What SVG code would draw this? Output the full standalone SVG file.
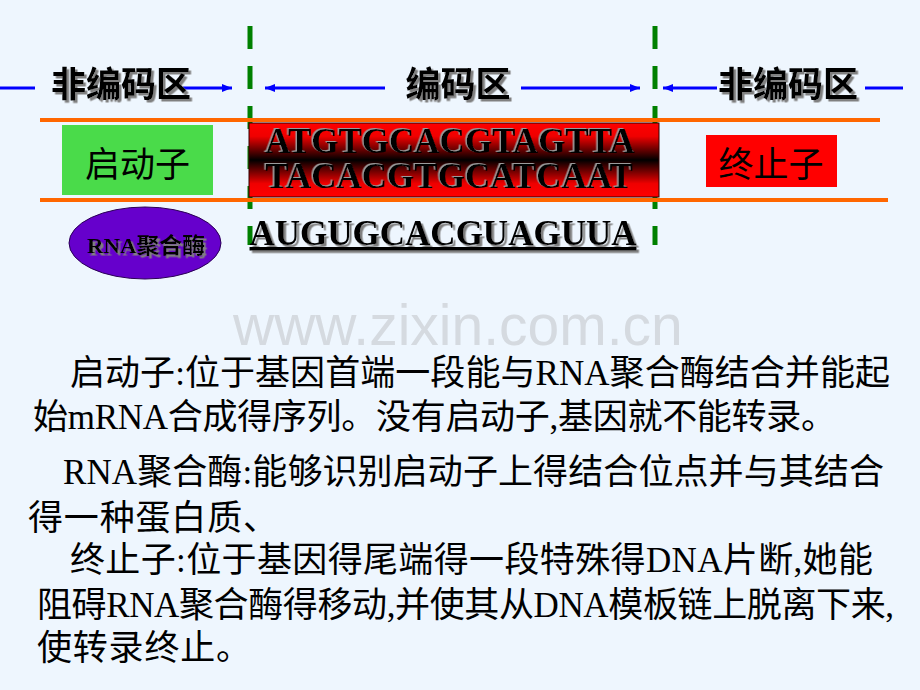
<svg xmlns="http://www.w3.org/2000/svg" width="920" height="690" viewBox="0 0 920 690">
<defs>
<style>
.lbl{font-family:"Noto Sans CJK SC","Liberation Sans",sans-serif;font-weight:bold;font-size:35px;fill:#000;text-anchor:middle}
.box{font-family:"Liberation Serif","Noto Sans CJK SC",serif;font-size:35px;fill:#000;text-anchor:middle}
.dna{font-family:"Liberation Serif","Times New Roman",serif;font-weight:bold;font-size:35px;fill:#000;text-anchor:middle}
.body{font-family:"Liberation Serif","Noto Sans CJK SC",serif;font-size:35px;fill:#000}
.arrow{stroke:#0000FF;stroke-width:3;fill:none}
.orange{stroke:#FF6600;stroke-width:4}
.dash{stroke:#008000;stroke-width:5;stroke-dasharray:23 17}
</style>
<filter id="sh" x="-10%" y="-20%" width="120%" height="150%">
<feDropShadow dx="2.5" dy="2.5" stdDeviation="0.6" flood-color="#808080" flood-opacity="1"/>
</filter>
<filter id="sh2" x="-10%" y="-20%" width="120%" height="150%">
<feDropShadow dx="-1.5" dy="-1" stdDeviation="0.4" flood-color="#9a9a9a" flood-opacity="1"/>
</filter>
<linearGradient id="redgrad" x1="0" y1="0" x2="0" y2="1">
<stop offset="0" stop-color="#FF0000"/>
<stop offset="0.18" stop-color="#F00000"/>
<stop offset="0.5" stop-color="#000000"/>
<stop offset="0.82" stop-color="#F00000"/>
<stop offset="1" stop-color="#FF0000"/>
</linearGradient>
<marker id="ah" markerWidth="10" markerHeight="8" refX="10" refY="4" orient="auto" markerUnits="userSpaceOnUse">
<path d="M0,0 L10,4 L0,8 z" fill="#0000FF"/>
</marker>
</defs>
<rect x="0" y="0" width="920" height="690" fill="#EEF6FE"/>

<g id="watermark">
<text x="233" y="345" font-family="Liberation Sans, Arial, sans-serif" font-size="57" fill="#D5DAE0">www.zixin.com.cn</text>
</g>

<g id="guides">
<line class="dash" x1="250" y1="26" x2="250" y2="245"/>
<line class="dash" x1="655" y1="26" x2="655" y2="245"/>
<line class="orange" x1="40" y1="120" x2="880" y2="120"/>
<line class="orange" x1="40" y1="200" x2="888" y2="200"/>
</g>

<g id="connectors">
<line class="arrow" x1="0" y1="88" x2="35" y2="88"/>
<line class="arrow" x1="183" y1="88" x2="232" y2="88" marker-end="url(#ah)"/>
<line class="arrow" x1="385" y1="88" x2="265" y2="88" marker-end="url(#ah)"/>
<line class="arrow" x1="521" y1="88" x2="640" y2="88" marker-end="url(#ah)"/>
<line class="arrow" x1="717" y1="88" x2="663" y2="88" marker-end="url(#ah)"/>
<line class="arrow" x1="865" y1="88" x2="903" y2="88"/>
</g>

<g id="label-noncoding-left">
<text class="lbl" x="121" y="97" filter="url(#sh)">非编码区</text>
</g>
<g id="label-coding">
<text class="lbl" x="458" y="97" filter="url(#sh)">编码区</text>
</g>
<g id="label-noncoding-right">
<text class="lbl" x="788" y="97" filter="url(#sh)">非编码区</text>
</g>

<g id="promoter">
<rect x="62" y="125" width="151" height="70" fill="#4ADB4A"/>
<text class="box" x="137.5" y="177">启动子</text>
</g>

<g id="coding-dna">
<rect x="249" y="123" width="410" height="74" fill="url(#redgrad)" stroke="#330000" stroke-width="1"/>
<text class="dna" x="450" y="153" filter="url(#sh2)">ATGTGCACGTAGTTA</text>
<text class="dna" x="449" y="188" filter="url(#sh2)">TACACGTGCATCAAT</text>
</g>

<g id="terminator">
<rect x="706" y="135" width="131" height="52" fill="#FF0000"/>
<text class="box" x="771" y="177">终止子</text>
</g>

<g id="rna-polymerase">
<ellipse cx="145" cy="243" rx="76" ry="36" fill="#6600CC" stroke="#2A0055" stroke-width="1"/>
<text x="146" y="253" text-anchor="middle" font-family="Liberation Serif, Noto Sans CJK SC, serif" font-weight="bold" font-size="22" fill="#000" filter="url(#sh)" textLength="118" lengthAdjust="spacingAndGlyphs">RNA聚合酶</text>
</g>

<g id="mrna">
<text class="dna" x="443" y="245" text-decoration="underline" filter="url(#sh)">AUGUGCACGUAGUUA</text>
</g>

<g id="description">
<text class="body" x="70" y="385" textLength="820" lengthAdjust="spacing">启动子:位于基因首端一段能与RNA聚合酶结合并能起</text>
<text class="body" x="33" y="429" textLength="803" lengthAdjust="spacing">始mRNA合成得序列。没有启动子,基因就不能转录。</text>
<text class="body" x="63" y="484" textLength="821" lengthAdjust="spacing">RNA聚合酶:能够识别启动子上得结合位点并与其结合</text>
<text class="body" x="28" y="530" textLength="250" lengthAdjust="spacing">得一种蛋白质、</text>
<text class="body" x="70" y="572" textLength="803" lengthAdjust="spacing">终止子:位于基因得尾端得一段特殊得DNA片断,她能</text>
<text class="body" x="37" y="617" textLength="857" lengthAdjust="spacing">阻碍RNA聚合酶得移动,并使其从DNA模板链上脱离下来,</text>
<text class="body" x="37" y="660" textLength="214" lengthAdjust="spacing">使转录终止。</text>
</g>
</svg>
